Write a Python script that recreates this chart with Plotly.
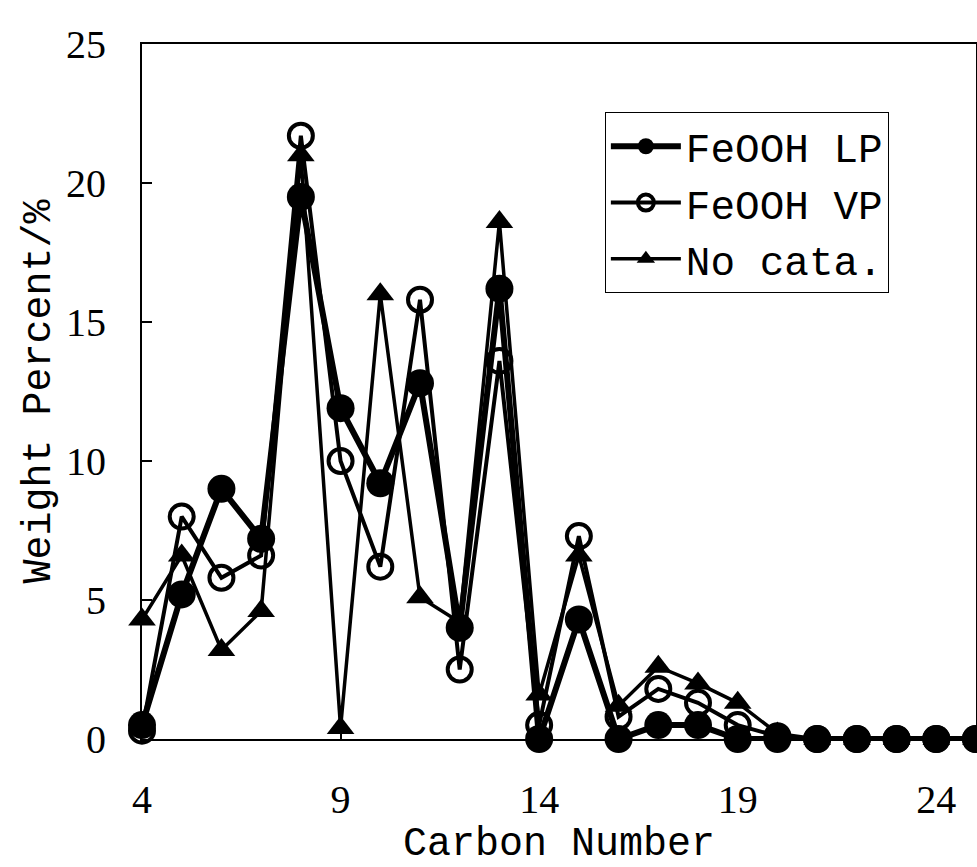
import plotly.graph_objects as go

# Carbon number distribution of the liquid product
carbon_number = list(range(4, 26))

feooh_lp = [0.5, 5.2, 9.0, 7.2, 19.5, 11.9, 9.2, 12.8, 4.0, 16.2, 0.0,
            4.3, 0.0, 0.5, 0.5, 0.0, 0.0, 0.0, 0.0, 0.0, 0.0, 0.0]
feooh_vp = [0.3, 8.0, 5.8, 6.6, 21.7, 10.0, 6.2, 15.8, 2.5, 13.6, 0.5,
            7.3, 0.8, 1.8, 1.3, 0.5, 0.1, 0.0, 0.0, 0.0, 0.0, 0.0]
no_cata = [4.3, 6.6, 3.2, 4.6, 21.0, 0.4, 16.0, 5.1, 4.2, 18.6, 1.6,
           6.6, 1.2, 2.6, 2.0, 1.3, 0.2, 0.0, 0.0, 0.0, 0.0, 0.0]

x_ticks = [4, 9, 14, 19, 24]
y_ticks = [0, 5, 10, 15, 20, 25]

MONO = "Liberation Mono, DejaVu Sans Mono, monospace"
SERIF = "Liberation Serif, DejaVu Serif, serif"

fig = go.Figure()

fig.add_trace(go.Scatter(
    x=carbon_number, y=no_cata, name="No cata.", mode="lines+markers",
    line=dict(color="black", width=3.5),
    marker=dict(symbol="triangle-up", size=24, color="black"),
    cliponaxis=False,
))
fig.add_trace(go.Scatter(
    x=carbon_number, y=feooh_vp, name="FeOOH VP", mode="lines+markers",
    line=dict(color="black", width=4),
    marker=dict(symbol="circle-open", size=24, color="black",
                line=dict(width=4, color="black")),
    cliponaxis=False,
))
fig.add_trace(go.Scatter(
    x=carbon_number, y=feooh_lp, name="FeOOH LP", mode="lines+markers",
    line=dict(color="black", width=6),
    marker=dict(symbol="circle", size=28, color="black"),
    cliponaxis=False,
))

fig.update_layout(
    width=977, height=867,
    margin=dict(l=142, r=1, t=44, b=128, autoexpand=False),
    paper_bgcolor="white", plot_bgcolor="white",
    font=dict(family=MONO, color="black", size=34),
    showlegend=True,
    legend=dict(
        x=0.555, y=0.902, xanchor="left", yanchor="top",
        traceorder="reversed",
        bordercolor="black", borderwidth=1, bgcolor="white",
        font=dict(family=MONO, size=41, color="black"),
        itemwidth=70, tracegroupgap=0,
    ),
    xaxis=dict(
        range=[4, 25], tickvals=x_ticks, ticks="inside", ticklen=8,
        tickwidth=1.5, tickcolor="black", ticklabelstandoff=24,
        showline=True, linecolor="black", linewidth=2, mirror=True,
        showgrid=False, zeroline=False,
        tickfont=dict(family=SERIF, size=40),
        title=dict(text="Carbon Number", font=dict(family=MONO, size=40),
                   standoff=4),
    ),
    yaxis=dict(
        range=[0, 25], tickvals=y_ticks, ticks="inside", ticklen=10,
        tickwidth=1.5, tickcolor="black", ticklabelstandoff=26,
        showline=True, linecolor="black", linewidth=2, mirror=True,
        showgrid=False, zeroline=False,
        tickfont=dict(family=SERIF, size=40),
        title=dict(text="Weight Percent/%", font=dict(family=MONO, size=40),
                   standoff=3),
    ),
)

fig.write_html("out.html")
